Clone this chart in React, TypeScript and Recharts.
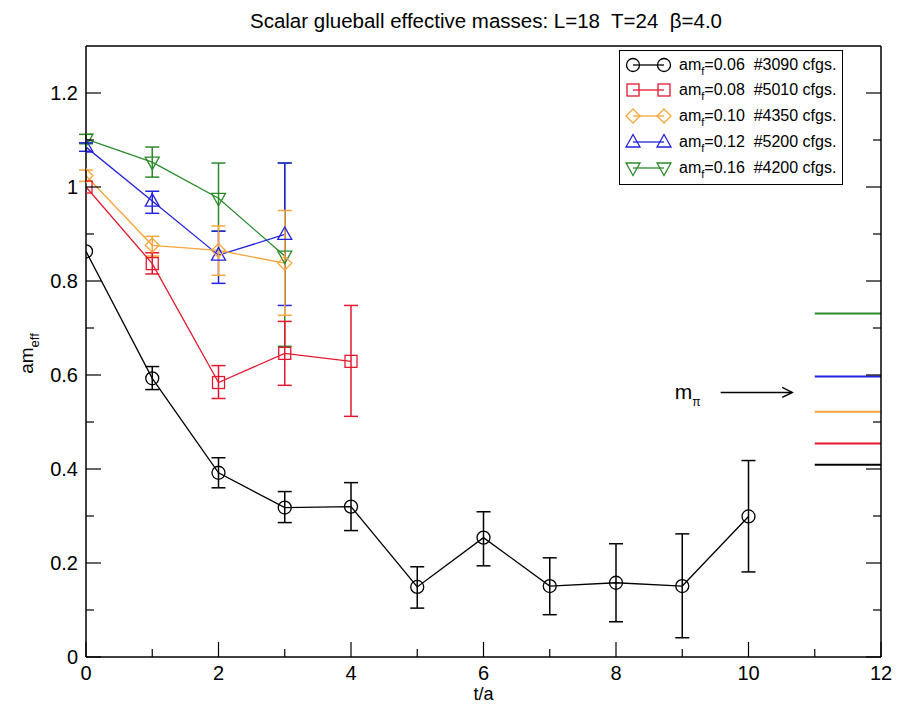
import React from 'react';
import { ComposedChart, Line, XAxis, YAxis, ErrorBar, ReferenceLine } from 'recharts';

const FONT = '"Liberation Sans", Arial, Helvetica, sans-serif';

// ---- data ----
const T06 = [0, 1, 2, 3, 4, 5, 6, 7, 8, 9, 10];
const M06 = [0.863, 0.593, 0.392, 0.318, 0.320, 0.149, 0.254, 0.151, 0.158, 0.151, 0.299];
const LO06 = [null, 0.569, 0.360, 0.286, 0.269, 0.104, 0.194, 0.090, 0.075, 0.041, 0.181];
const HI06 = [null, 0.618, 0.424, 0.352, 0.371, 0.192, 0.309, 0.211, 0.241, 0.262, 0.418];

const T08 = [0, 1, 2, 3, 4];
const M08 = [1.0, 0.837, 0.584, 0.646, 0.629];
const LO08 = [null, 0.815, 0.550, 0.578, 0.512];
const HI08 = [null, 0.860, 0.620, 0.714, 0.748];

const T10 = [0, 1, 2, 3];
const M10 = [1.024, 0.876, 0.865, 0.838];
const LO10 = [1.012, 0.853, 0.812, 0.727];
const HI10 = [1.036, 0.895, 0.917, 0.950];

const T12 = [0, 1, 2, 3];
const M12 = [1.085, 0.970, 0.855, 0.899];
const LO12 = [1.076, 0.944, 0.795, 0.748];
const HI12 = [1.094, 0.991, 0.906, 1.051];

const T16 = [0, 1, 2, 3];
const M16 = [1.102, 1.053, 0.976, 0.853];
const LO16 = [1.092, 1.021, 0.906, 0.661];
const HI16 = [1.112, 1.085, 1.051, 1.051];

const MASSES = ['0.06', '0.08', '0.10', '0.12', '0.16'];
const CFGS = ['#3090', '#5010', '#4350', '#5200', '#4200'];
const COLORS = ['#000000', '#e3182d', '#f7a53a', '#2323e0', '#2a8a2a'];
const SHAPES = ['circle', 'square', 'diamond', 'triUp', 'triDown'];
const MPI = [0.409, 0.454, 0.522, 0.597, 0.731];
const MPI_X = [11, 12];
const ARROW_X = [9.58, 10.66];
const ARROW_Y = 0.563;

const X_TICKS = [0, 1, 2, 3, 4, 5, 6, 7, 8, 9, 10, 11, 12];
const Y_TICKS = [0, 0.1, 0.2, 0.3, 0.4, 0.5, 0.6, 0.7, 0.8, 0.9, 1.0, 1.1, 1.2];

function build(t: number[], m: number[], lo: (number | null)[], hi: (number | null)[]) {
  return t.map((tv, i) => ({
    t: tv,
    v: m[i],
    err: lo[i] == null || hi[i] == null ? null : [m[i] - (lo[i] as number), (hi[i] as number) - m[i]],
  }));
}

const SERIES = [
  build(T06, M06, LO06, HI06),
  build(T08, M08, LO08, HI08),
  build(T10, M10, LO10, HI10),
  build(T12, M12, LO12, HI12),
  build(T16, M16, LO16, HI16),
];

function Sym({ shape, cx, cy, color }: any) {
  if (cx == null || cy == null) return null;
  const sw = 1.3;
  switch (shape) {
    case 'circle':
      return <circle cx={cx} cy={cy} r={6.5} fill="none" stroke={color} strokeWidth={sw} />;
    case 'square':
      return <rect x={cx - 6} y={cy - 6} width={12} height={12} fill="none" stroke={color} strokeWidth={sw} />;
    case 'diamond':
      return (
        <polygon
          points={`${cx},${cy - 7} ${cx + 7},${cy} ${cx},${cy + 7} ${cx - 7},${cy}`}
          fill="none" stroke={color} strokeWidth={sw}
        />
      );
    case 'triUp':
      return (
        <polygon
          points={`${cx},${cy - 7.5} ${cx + 7},${cy + 5} ${cx - 7},${cy + 5}`}
          fill="none" stroke={color} strokeWidth={sw}
        />
      );
    default:
      return (
        <polygon
          points={`${cx},${cy + 7.5} ${cx + 7},${cy - 5} ${cx - 7},${cy - 5}`}
          fill="none" stroke={color} strokeWidth={sw}
        />
      );
  }
}

const isMajorX = (v: number) => Math.round(v) % 2 === 0;
const isMajorY = (v: number) => Math.round(v * 10) % 2 === 0;
const fmtY = (v: number) => String(Math.round(v * 10) / 10);

function BottomTick(props: any) {
  const { x, y, payload } = props;
  const v = payload.value;
  const major = isMajorX(v);
  return (
    <g>
      <line x1={x} x2={x} y1={y} y2={y - (major ? 15 : 8)} stroke="#000" strokeWidth={1.2} />
      {major && (
        <text x={x} y={y + 23} textAnchor="middle" fontSize={20} fontFamily={FONT} fill="#000">
          {v}
        </text>
      )}
    </g>
  );
}
function TopTick(props: any) {
  const { x, y, payload } = props;
  const major = isMajorX(payload.value);
  return <line x1={x} x2={x} y1={y} y2={y + (major ? 15 : 8)} stroke="#000" strokeWidth={1.2} />;
}
function LeftTick(props: any) {
  const { x, y, payload } = props;
  const v = payload.value;
  const major = isMajorY(v);
  return (
    <g>
      <line x1={x} x2={x + (major ? 15 : 8)} y1={y} y2={y} stroke="#000" strokeWidth={1.2} />
      {major && (
        <text x={x - 8} y={y + 7} textAnchor="end" fontSize={20} fontFamily={FONT} fill="#000">
          {fmtY(v)}
        </text>
      )}
    </g>
  );
}
function RightTick(props: any) {
  const { x, y, payload } = props;
  const major = isMajorY(payload.value);
  return <line x1={x} x2={x - (major ? 15 : 8)} y1={y} y2={y} stroke="#000" strokeWidth={1.2} />;
}

function ArrowShape(props: any) {
  const { x1, y1, x2, y2 } = props;
  return (
    <g>
      <line x1={x1} y1={y1} x2={x2} y2={y2} stroke="#000" strokeWidth={1.5} />
      <polyline points={`${x2 - 10},${y2 - 5} ${x2},${y2} ${x2 - 10},${y2 + 5}`} fill="none" stroke="#000" strokeWidth={1.5} />
      <text x={x1 - 46} y={y1 + 7} fontSize={21} fontFamily={FONT} fill="#000">
        m<tspan dy={7} fontSize={12}>π</tspan>
      </text>
    </g>
  );
}

function YLabel(props: any) {
  const vb = props.viewBox || { x: 26, y: 46, width: 60, height: 611 };
  const cx = vb.x + 7;
  const cy = vb.y + vb.height / 2 + 2;
  return (
    <text transform={`translate(${cx},${cy}) rotate(-90)`} textAnchor="middle" fontSize={19} fontFamily={FONT} fill="#000">
      am<tspan dy={6} fontSize={13}>eff</tspan>
    </text>
  );
}

function XLabel(props: any) {
  const vb = props.viewBox || { x: 86, y: 657, width: 795, height: 30 };
  return (
    <text x={vb.x + vb.width / 2} y={vb.y + 43} textAnchor="middle" fontSize={18} fontFamily={FONT} fill="#000">
      t/a
    </text>
  );
}

function LegendBox() {
  return (
    <div
      style={{
        position: 'absolute', left: 619, top: 50, width: 224, height: 135,
        border: '1.5px solid #000', background: '#fff', boxSizing: 'border-box',
        fontFamily: FONT, fontSize: 16, color: '#000',
      }}
    >
      {MASSES.map((m, i) => (
        <div key={m} style={{ position: 'absolute', left: 0, top: 3.5 + i * 25.75, height: 20, width: 222 }}>
          <svg width={56} height={20} style={{ position: 'absolute', left: 0, top: 0 }}>
            <line x1={13} x2={44} y1={10} y2={10} stroke={COLORS[i]} strokeWidth={1.3} />
            <Sym shape={SHAPES[i]} cx={13} cy={10} color={COLORS[i]} />
            <Sym shape={SHAPES[i]} cx={44} cy={10} color={COLORS[i]} />
          </svg>
          <div style={{ position: 'absolute', left: 59, top: 0, lineHeight: '19px', whiteSpace: 'pre' }}>
            am<span style={{ fontSize: 11, position: 'relative', top: 5 }}>f</span>={m}  {CFGS[i]} cfgs.
          </div>
        </div>
      ))}
    </div>
  );
}

export default function App() {
  return (
    <div style={{ position: 'absolute', left: 0, top: 0, width: 898, height: 706, background: '#fff' }}>
      <div
        style={{
          position: 'absolute', left: 86, top: 9, width: 800, textAlign: 'center',
          fontFamily: FONT, fontSize: 20.5, lineHeight: '24px', color: '#000', whiteSpace: 'pre',
        }}
      >
        Scalar glueball effective masses: L=18  T=24  β=4.0
      </div>
      <ComposedChart width={898} height={706} margin={{ top: 41, right: 7, bottom: 19, left: 26 }}>
        <XAxis
          xAxisId={0} dataKey="t" type="number" domain={[0, 12]} ticks={X_TICKS} interval={0}
          tickSize={0} tickMargin={0} tickLine={false} tick={<BottomTick />}
          axisLine={{ stroke: '#000', strokeWidth: 1.5 }} height={30} allowDataOverflow
          label={<XLabel />}
        />
        <XAxis
          xAxisId="top" orientation="top" type="number" domain={[0, 12]} ticks={X_TICKS} interval={0}
          tickSize={0} tickMargin={0} tickLine={false} tick={<TopTick />}
          axisLine={{ stroke: '#000', strokeWidth: 1.5 }} height={5} allowDataOverflow
        />
        <YAxis
          yAxisId={0} type="number" domain={[0, 1.3]} ticks={Y_TICKS} interval={0}
          tickSize={0} tickMargin={0} tickLine={false} tick={<LeftTick />}
          axisLine={{ stroke: '#000', strokeWidth: 1.5 }} width={60} allowDataOverflow
          label={<YLabel />}
        />
        <YAxis
          yAxisId="right" orientation="right" type="number" domain={[0, 1.3]} ticks={Y_TICKS} interval={0}
          tickSize={0} tickMargin={0} tickLine={false} tick={<RightTick />}
          axisLine={{ stroke: '#000', strokeWidth: 1.5 }} width={10} allowDataOverflow
        />
        {MPI.map((v, i) => (
          <ReferenceLine
            key={`mpi${i}`}
            segment={[{ x: MPI_X[0], y: v }, { x: MPI_X[1], y: v }]}
            stroke={COLORS[i]} strokeWidth={2} ifOverflow="visible"
          />
        ))}
        <ReferenceLine
          segment={[{ x: ARROW_X[0], y: ARROW_Y }, { x: ARROW_X[1], y: ARROW_Y }]}
          shape={<ArrowShape />} ifOverflow="visible"
        />
        {[4, 3, 2, 1, 0].map((i) => (
          <Line
            key={MASSES[i]}
            data={SERIES[i]}
            dataKey="v"
            type="linear"
            stroke={COLORS[i]}
            strokeWidth={1.3}
            isAnimationActive={false}
            dot={(p: any) => <Sym key={`s${i}-${p.index}`} shape={SHAPES[i]} cx={p.cx} cy={p.cy} color={COLORS[i]} />}
            activeDot={false}
          >
            <ErrorBar dataKey="err" direction="y" width={7} stroke={COLORS[i]} strokeWidth={1.5} isAnimationActive={false} />
          </Line>
        ))}
      </ComposedChart>
      <LegendBox />
    </div>
  );
}
